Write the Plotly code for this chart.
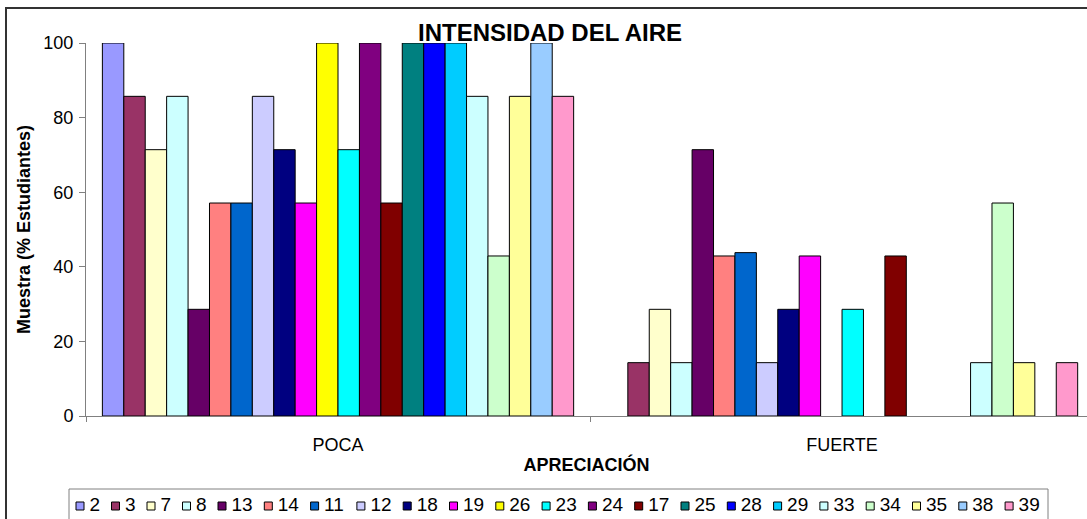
import plotly.graph_objects as go

# datos (7 estudiantes por muestra)
categorias = ["POCA", "FUERTE"]
muestras = ["2", "3", "7", "8", "13", "14", "11", "12", "18", "19", "26",
            "23", "24", "17", "25", "28", "29", "33", "34", "35", "38", "39"]
poca = [100, 85.7, 71.4, 85.7, 28.6, 57.1, 57.1, 85.7, 71.4, 57.1, 100,
        71.4, 100, 57.1, 100, 100, 100, 85.7, 42.9, 85.7, 100, 85.7]
fuerte = [0, 14.3, 28.6, 14.3, 71.4, 42.9, 43.8, 14.3, 28.6, 42.9, 0,
          28.6, 0, 42.9, 0, 0, 0, 14.3, 57.1, 14.3, 0, 14.3]
colores = ["#9999FF", "#993366", "#FFFFCC", "#CCFFFF", "#660066", "#FF8080",
           "#0066CC", "#CCCCFF", "#000080", "#FF00FF", "#FFFF00", "#00FFFF",
           "#800080", "#800000", "#008080", "#0000FF", "#00CCFF", "#CCFFFF",
           "#CCFFCC", "#FFFF99", "#99CCFF", "#FF99CC"]

FONT = "Liberation Sans, Arial, sans-serif"
W, H = 1087, 519

fig = go.Figure()
for i, m in enumerate(muestras):
    vals = [poca[i], fuerte[i]]
    fig.add_trace(go.Bar(
        x=categorias,
        y=vals,
        name=m,
        # Excel no dibuja el borde de las barras en cero
        marker=dict(color=colores[i],
                    line=dict(color="black",
                              width=[1 if v > 0 else 0 for v in vals])),
        showlegend=False,
    ))

# leyenda estilo Excel: una fila de cuadritos, en coordenadas de pixel (x2/y2)
leg_x = []
pos = 80
for m in muestras:
    leg_x.append(pos)
    pos += 24.7 + 10.8 * len(m)

fig.add_trace(go.Scatter(
    x=leg_x, y=[506] * len(muestras), xaxis="x2", yaxis="y2",
    mode="markers",
    marker=dict(symbol="square", size=8, color=colores,
                line=dict(color="black", width=1)),
    cliponaxis=False, hoverinfo="skip", showlegend=False,
))
fig.add_trace(go.Scatter(
    x=[x + 9.5 for x in leg_x], y=[506] * len(muestras), xaxis="x2", yaxis="y2",
    mode="text", text=muestras, textposition="middle right",
    textfont=dict(size=19, color="black"),
    cliponaxis=False, hoverinfo="skip", showlegend=False,
))

fig.update_layout(
    template="none",
    width=W, height=H,
    barmode="group", bargap=0.065, bargroupgap=0,
    paper_bgcolor="white", plot_bgcolor="rgba(0,0,0,0)",
    margin=dict(l=0, r=0, t=0, b=0),
    font=dict(family=FONT, size=18, color="black"),
    title=dict(text="<b>INTENSIDAD DEL AIRE</b>", font=dict(size=24),
               x=550 / W, xanchor="center", xref="paper",
               y=1 - 33 / H, yanchor="middle", yref="container"),
    showlegend=False,
    xaxis=dict(
        domain=[86 / W, 1],
        range=[-0.5, 1.486], showline=True, linecolor="#808080", linewidth=1,
        ticks="outside", tickson="boundaries", ticklen=5, tickcolor="#808080",
        showgrid=False, zeroline=False, tickfont=dict(size=18),
        ticklabelstandoff=12, automargin=False, layer="above traces",
        title=dict(text="<b>APRECIACIÓN</b>", font=dict(size=18), standoff=4),
    ),
    yaxis=dict(
        domain=[103 / H, 1 - 43 / H],
        range=[0, 100], dtick=20, showline=True, linecolor="#808080",
        linewidth=1, ticks="outside", ticklen=6, tickcolor="#808080",
        showgrid=False, zeroline=False, tickfont=dict(size=18),
        ticklabelstandoff=2, automargin=False, layer="above traces",
        title=dict(text="<b>Muestra (% Estudiantes)</b>", font=dict(size=18),
                   standoff=8),
    ),
    xaxis2=dict(domain=[0, 1], range=[0, W], anchor="y2", visible=False),
    yaxis2=dict(domain=[0, 1], range=[H, 0], anchor="x2", visible=False),
    shapes=[
        # marco del grafico
        dict(type="rect", xref="paper", yref="paper",
             x0=6 / W, x1=1.02, y0=-0.02, y1=1 - 8 / H,
             line=dict(color="#333333", width=2), layer="below"),
        # caja de la leyenda
        dict(type="rect", xref="paper", yref="paper",
             x0=69 / W, x1=1048 / W, y0=-0.02, y1=1 - 489 / H,
             line=dict(color="#808080", width=1), layer="below"),
    ],
)

fig.write_html("out.html", config={"displayModeBar": False},
               post_script="document.body.style.margin='0';")
